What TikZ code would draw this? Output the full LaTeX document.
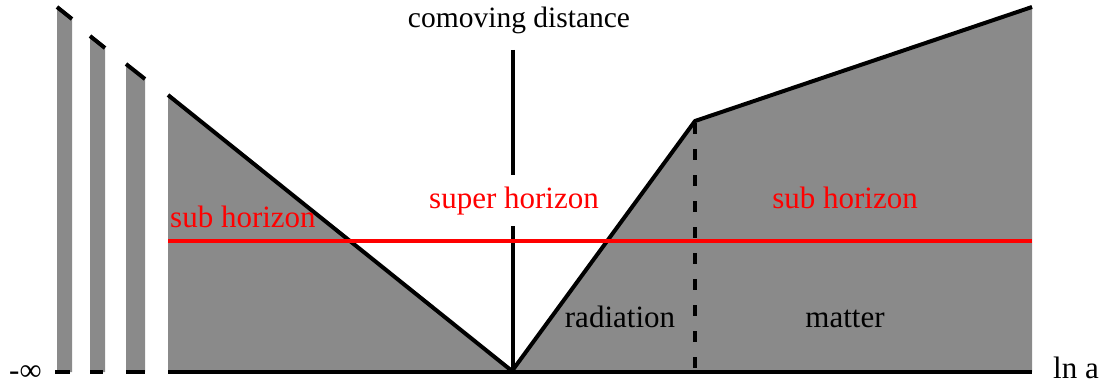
\documentclass[tikz,border=0pt]{standalone}
\usepackage{fontspec}
\setmainfont{Liberation Serif}
\definecolor{fillgray}{RGB}{138,138,138}
\definecolor{hred}{RGB}{255,0,0}
\tikzset{
  lbl/.style={font=\fontsize{31}{37}\selectfont, inner sep=0pt, anchor=base},
  redlbl/.style={lbl, text=hred},
  edgeline/.style={line width=4pt, line cap=butt, line join=round},
  baseline/.style={line width=3.5pt},
}
\begin{document}
\begin{tikzpicture}[x=1pt,y=-1pt]
\useasboundingbox (0,0) rectangle (1107,385);
% left bars
\fill[fillgray] (57,7) -- (72,19) -- (72,372) -- (57,372) -- cycle;
\fill[fillgray] (90,36) -- (105,48) -- (105,372) -- (90,372) -- cycle;
\fill[fillgray] (126,64) -- (145,79) -- (145,372) -- (126,372) -- cycle;
\draw[edgeline] (57,7) -- (72,19);
\draw[edgeline] (90,36) -- (105,48);
\draw[edgeline] (126,64) -- (145,79);
\draw[baseline] (55,372) -- (70,372);
\draw[baseline] (90,372) -- (103,372);
\draw[baseline] (126,372) -- (145,372);
% main region
\fill[fillgray] (168,95) -- (512,371) -- (695,121) -- (1032,7) -- (1032,372) -- (168,372) -- cycle;
\draw[edgeline] (168,95) -- (512,371) -- (695,121) -- (1032,7);
\draw[baseline] (168,372) -- (1032,372);
% vertical axis
\draw[edgeline] (513,50) -- (513,370);
% dashed boundary
\draw[edgeline, dash pattern=on 11pt off 15pt] (695,123) -- (695,372);
% horizon line
\draw[hred, line width=4.5pt] (168,241) -- (1032,241);
% labels
\node[lbl, font=\fontsize{29.5}{35}\selectfont] (cd) at (519,28) {comoving distance};
\node[redlbl, anchor=base west] (shl) at (170,227) {sub horizon};
\node[redlbl, fill=white, inner ysep=11pt, inner xsep=4pt] (sup) at (514,208) {super horizon};
\node[redlbl] (shr) at (845,208) {sub horizon};
\node[lbl] (rad) at (620,327) {radiation};
\node[lbl] (mat) at (845,327) {matter};
\node[lbl, anchor=base west] (lna) at (1053,378) {ln a};
\node[lbl, anchor=base west] (minf) at (9,380) {-∞};
\end{tikzpicture}
\end{document}
